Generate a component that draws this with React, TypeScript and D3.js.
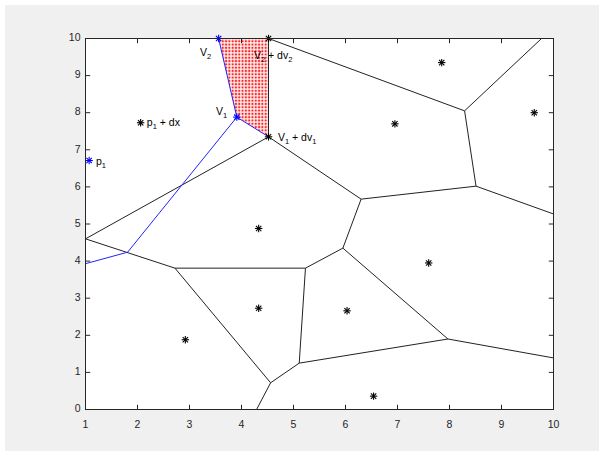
import React from "react";
import * as d3 from "d3";

// sites (black asterisks), p1 + dx is the last one
const sites: [number, number][] = [
  [7.85, 9.35],
  [9.63, 8.0],
  [6.95, 7.7],
  [4.33, 4.88],
  [7.6, 3.95],
  [4.33, 2.73],
  [6.03, 2.66],
  [2.92, 1.88],
  [6.54, 0.36],
  [2.06, 7.73],
];

// voronoi edges
const edges: [number, number][][] = [
  [[4.52, 7.35], [4.52, 10]],
  [[4.52, 7.35], [1, 4.6]],
  [[4.52, 7.35], [6.3, 5.67]],
  [[4.52, 10], [8.29, 8.05]],
  [[8.29, 8.05], [9.77, 10]],
  [[8.29, 8.05], [8.51, 6.02]],
  [[8.51, 6.02], [10, 5.27]],
  [[6.3, 5.67], [8.51, 6.02]],
  [[6.3, 5.67], [5.95, 4.35]],
  [[5.95, 4.35], [5.23, 3.81]],
  [[5.95, 4.35], [7.97, 1.9]],
  [[7.97, 1.9], [10, 1.39]],
  [[5.23, 3.81], [2.72, 3.81]],
  [[2.72, 3.81], [1, 4.6]],
  [[2.72, 3.81], [4.56, 0.72]],
  [[4.56, 0.72], [4.29, 0]],
  [[4.56, 0.72], [5.11, 1.25]],
  [[5.11, 1.25], [5.23, 3.81]],
  [[5.11, 1.25], [7.97, 1.9]],
];

const bluePath: [number, number][] = [[1, 3.93], [1.81, 4.24], [3.91, 7.88], [3.56, 10]];
const blueEdge: [number, number][] = [[3.91, 7.88], [4.52, 7.35]];
const redRegion: [number, number][] = [[3.56, 10], [4.52, 10], [4.52, 7.35], [3.91, 7.88]];

const blueMarks: [number, number][] = [[1.07, 6.71], [3.91, 7.88], [3.56, 10]];
const blackMarks: [number, number][] = [[4.52, 7.35], [4.52, 10]];

const labels: { x: number; y: number; t: string }[] = [
  { x: 1.2, y: 6.68, t: "p_1" },
  { x: 2.18, y: 7.72, t: "p_1 + dx" },
  { x: 3.51, y: 8.02, t: "V_1" },
  { x: 4.7, y: 7.32, t: "V_1 + dv_1" },
  { x: 3.2, y: 9.62, t: "V_2" },
  { x: 4.24, y: 9.53, t: "V_2 + dv_2" },
];

const xTicks = [1, 2, 3, 4, 5, 6, 7, 8, 9, 10];
const yTicks = [0, 1, 2, 3, 4, 5, 6, 7, 8, 9, 10];

const W = 605;
const H = 456;
const plot = { left: 85.5, right: 553.5, top: 38.5, bottom: 409.5 };
const font = "'Liberation Sans', Arial, Helvetica, sans-serif";
const axisColor = "#262626";

const Star = ({ cx, cy, color }: { cx: number; cy: number; color: string }) => {
  const r = 3.7;
  const d = r * 0.72;
  return (
    <g stroke={color} strokeWidth={1.1}>
      <line x1={cx - r} y1={cy} x2={cx + r} y2={cy} />
      <line x1={cx} y1={cy - r} x2={cx} y2={cy + r} />
      <line x1={cx - d} y1={cy - d} x2={cx + d} y2={cy + d} />
      <line x1={cx - d} y1={cy + d} x2={cx + d} y2={cy - d} />
    </g>
  );
};

// "V_1 + dv_1" -> text with subscripts
const TexLabel = ({ x, y, t }: { x: number; y: number; t: string }) => {
  const parts = t.split(/_(\w)/);
  return (
    <text x={x} y={y} fontFamily={font} fontSize={10.5} fill="#000" dominantBaseline="middle">
      {parts.map((p, i) =>
        i % 2 === 1 ? (
          <tspan key={i} fontSize={7.5} dy={4}>
            {p}
          </tspan>
        ) : (
          <tspan key={i} dy={i > 0 ? -4 : 0}>
            {p}
          </tspan>
        )
      )}
    </text>
  );
};

export default function App() {
  const x = d3.scaleLinear().domain([1, 10]).range([plot.left, plot.right]);
  const y = d3.scaleLinear().domain([0, 10]).range([plot.bottom, plot.top]);
  const line = d3
    .line<[number, number]>()
    .x((d) => x(d[0]))
    .y((d) => y(d[1]));
  const tickLen = 4.7;

  return (
    <svg width={W} height={H} style={{ position: "absolute", left: 0, top: 0, display: "block" }}>
      <defs>
        <pattern id="dots" width={3.3} height={3.3} patternUnits="userSpaceOnUse">
          <rect width={3.3} height={3.3} fill="#fff" />
          <rect x={0.6} y={0.6} width={2.1} height={2.1} fill="#f22" />
        </pattern>
      </defs>
      <rect width={W} height={H} fill="#fff" />
      <rect x={5} y={5} width={594} height={446} fill="#f0f0f0" />
      <rect
        x={plot.left}
        y={plot.top}
        width={plot.right - plot.left}
        height={plot.bottom - plot.top}
        fill="#fff"
      />

      <path d={line(redRegion) + "Z"} fill="url(#dots)" stroke="none" />

      {edges.map((e, i) => (
        <path key={i} d={line(e) ?? ""} fill="none" stroke="#222" strokeWidth={1} />
      ))}
      <path d={line(bluePath) ?? ""} fill="none" stroke="#2222ff" strokeWidth={1} />
      <path d={line(blueEdge) ?? ""} fill="none" stroke="#2222ff" strokeWidth={1} />

      {sites.map((s, i) => (
        <Star key={i} cx={x(s[0])} cy={y(s[1])} color="#000" />
      ))}
      {blackMarks.map((s, i) => (
        <Star key={i} cx={x(s[0])} cy={y(s[1])} color="#000" />
      ))}
      {blueMarks.map((s, i) => (
        <Star key={i} cx={x(s[0])} cy={y(s[1])} color="#0000ff" />
      ))}

      {labels.map((l, i) => (
        <TexLabel key={i} x={x(l.x)} y={y(l.y)} t={l.t} />
      ))}

      {/* axes box and ticks */}
      <rect
        x={plot.left}
        y={plot.top}
        width={plot.right - plot.left}
        height={plot.bottom - plot.top}
        fill="none"
        stroke={axisColor}
        strokeWidth={1}
      />
      {xTicks.map((t) => (
        <g key={t}>
          <line x1={x(t)} x2={x(t)} y1={plot.bottom} y2={plot.bottom - tickLen} stroke={axisColor} />
          <line x1={x(t)} x2={x(t)} y1={plot.top} y2={plot.top + tickLen} stroke={axisColor} />
          <text
            x={x(t)}
            y={plot.bottom + 18}
            textAnchor="middle"
            fontFamily={font}
            fontSize={10.5}
            fill={axisColor}
          >
            {t}
          </text>
        </g>
      ))}
      {yTicks.map((t) => (
        <g key={t}>
          <line x1={plot.left} x2={plot.left + tickLen} y1={y(t)} y2={y(t)} stroke={axisColor} />
          <line x1={plot.right} x2={plot.right - tickLen} y1={y(t)} y2={y(t)} stroke={axisColor} />
          <text
            x={plot.left - 5}
            y={y(t)}
            textAnchor="end"
            dominantBaseline="middle"
            fontFamily={font}
            fontSize={10.5}
            fill={axisColor}
          >
            {t}
          </text>
        </g>
      ))}
    </svg>
  );
}
